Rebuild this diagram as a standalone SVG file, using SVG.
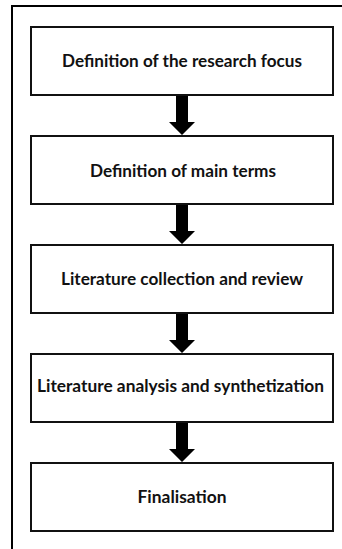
<svg xmlns="http://www.w3.org/2000/svg" width="342" height="549" viewBox="0 0 342 549">
<style>
.frame{fill:none;stroke:#000;stroke-width:2}
.box{fill:#fff;stroke:#111;stroke-width:2}
.lbl{font-family:Lato,"Liberation Sans",sans-serif;font-weight:700;font-size:16.5px;fill:#111;text-anchor:middle}
.arr{fill:#000}
</style>
<rect width="342" height="549" fill="#fff"/>
<path class="frame" d="M12 549 V6 H342"/>
<g id="n1"><rect class="box" x="31" y="27" width="302" height="68"/><text class="lbl" x="182" y="67" textLength="240" lengthAdjust="spacingAndGlyphs">Definition of the research focus</text></g>
<g id="n2"><rect class="box" x="31" y="136" width="302" height="68"/><text class="lbl" x="183" y="176.5" textLength="186" lengthAdjust="spacingAndGlyphs">Definition of main terms</text></g>
<g id="n3"><rect class="box" x="31" y="245" width="302" height="68"/><text class="lbl" x="182" y="285" textLength="242" lengthAdjust="spacingAndGlyphs">Literature collection and review</text></g>
<g id="n4"><rect class="box" x="31" y="354" width="302" height="68"/><text class="lbl" x="180.5" y="392" textLength="287" lengthAdjust="spacingAndGlyphs">Literature analysis and synthetization</text></g>
<g id="n5"><rect class="box" x="31" y="463" width="302" height="68"/><text class="lbl" x="182" y="502.5" textLength="89" lengthAdjust="spacingAndGlyphs">Finalisation</text></g>
<g id="connectors">
<path class="arr" d="M176 96 H188 V122 H195 L182 135 L169 122 H176 Z"/>
<path class="arr" d="M176 205 H188 V231 H195 L182 244 L169 231 H176 Z"/>
<path class="arr" d="M176 314 H188 V340 H195 L182 353 L169 340 H176 Z"/>
<path class="arr" d="M176 423 H188 V449 H195 L182 462 L169 449 H176 Z"/>
</g>
</svg>
